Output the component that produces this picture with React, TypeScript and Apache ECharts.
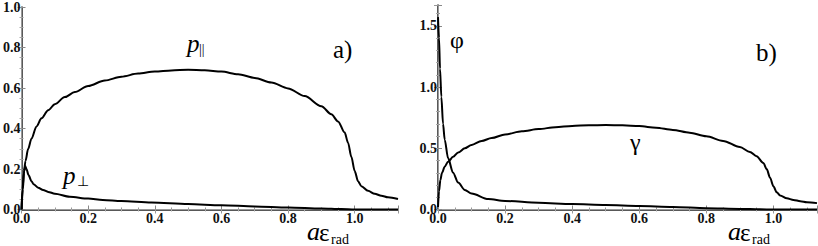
import React, { useEffect, useRef } from "react";
import * as echarts from "echarts";

// ---- data ----
const X_PPAR = [0, 0.003, 0.007, 0.012, 0.02, 0.03, 0.045, 0.06, 0.08, 0.1, 0.13, 0.16, 0.2, 0.25, 0.3, 0.35, 0.4, 0.45, 0.5, 0.55, 0.6, 0.65, 0.7, 0.75, 0.8, 0.85, 0.9, 0.93, 0.95, 0.97, 0.98, 0.99, 1.0, 1.01, 1.02, 1.04, 1.06, 1.08, 1.1, 1.13];
const Y_PPAR = [0, 0.1, 0.18, 0.24, 0.3, 0.35, 0.41, 0.45, 0.49, 0.52, 0.555, 0.58, 0.61, 0.637, 0.656, 0.671, 0.681, 0.687, 0.69, 0.688, 0.681, 0.668, 0.65, 0.627, 0.598, 0.56, 0.51, 0.47, 0.435, 0.38, 0.33, 0.26, 0.19, 0.14, 0.115, 0.092, 0.078, 0.068, 0.06, 0.052];

const X_PPERP = [0, 0.004, 0.008, 0.011, 0.015, 0.021, 0.03, 0.036, 0.05, 0.065, 0.08, 0.1, 0.145, 0.2, 0.244, 0.3, 0.39, 0.5, 0.6, 0.7, 0.8, 0.9, 0.96, 1.0, 1.13];
const Y_PPERP = [0, 0.1, 0.19, 0.215, 0.2, 0.17, 0.14, 0.125, 0.108, 0.096, 0.087, 0.078, 0.063, 0.054, 0.047, 0.042, 0.034, 0.027, 0.021, 0.015, 0.01, 0.005, 0.002, 0, 0];

const X_PHI = [0, 0.003, 0.006, 0.01, 0.015, 0.02, 0.03, 0.045, 0.06, 0.08, 0.1, 0.15, 0.2, 0.3, 0.4, 0.5, 0.6, 0.7, 0.8, 0.9, 0.96, 1.0, 1.13];
const Y_PHI = [1.571, 1.4, 1.15, 0.92, 0.7, 0.57, 0.42, 0.3, 0.22, 0.16, 0.13, 0.085, 0.07, 0.055, 0.045, 0.037, 0.029, 0.021, 0.011, 0.005, 0.002, 0, 0];

const X_GAMMA = [0, 0.003, 0.007, 0.012, 0.02, 0.03, 0.045, 0.06, 0.08, 0.1, 0.13, 0.16, 0.2, 0.25, 0.3, 0.35, 0.4, 0.45, 0.5, 0.55, 0.6, 0.65, 0.7, 0.75, 0.8, 0.85, 0.9, 0.93, 0.95, 0.97, 0.98, 0.99, 1.0, 1.01, 1.02, 1.04, 1.06, 1.08, 1.1, 1.13];
const Y_GAMMA = [0.02, 0.15, 0.24, 0.3, 0.35, 0.39, 0.43, 0.465, 0.5, 0.527, 0.56, 0.584, 0.613, 0.639, 0.657, 0.672, 0.682, 0.688, 0.69, 0.688, 0.681, 0.668, 0.65, 0.627, 0.598, 0.56, 0.51, 0.47, 0.435, 0.38, 0.33, 0.26, 0.19, 0.14, 0.115, 0.092, 0.078, 0.068, 0.06, 0.052];

const X_MAX = 1.13;
const X_TICK = 0.2;
const YA_MAX = 1.0;
const YA_TICK = 0.2;
const YB_MAX = 1.67;
const YB_TICK = 0.5;

const zip = (xs: number[], ys: number[]) => xs.map((x, i) => [x, ys[i]]);

const SERIF = "Liberation Serif";

function fmt(step: number) {
  return (v: number) => {
    const k = v / step;
    if (Math.abs(k - Math.round(k)) > 1e-6) return "";
    return v.toFixed(1);
  };
}

export default function App() {
  const ref = useRef<HTMLDivElement>(null);
  useEffect(() => {
    document.body.style.margin = "0";
    const chart = echarts.init(ref.current!, undefined, { renderer: "svg" });
    const grids = [
      { left: 18, top: 5, width: 380, height: 204.5 },
      { left: 438, top: 5, width: 379, height: 204.5 },
    ];
    const labelStyle = { fontFamily: SERIF, fontSize: 14, fontWeight: "bold" as const, color: "#111" };
    const xAxes: any[] = [];
    const yAxes: any[] = [];
    [0, 1].forEach((g) => {
      xAxes.push({
        type: "value", gridIndex: g, min: 0, max: X_MAX, interval: X_TICK, position: "bottom",
        axisLine: { show: true, lineStyle: { color: "#222", width: 1.5 } },
        axisTick: { show: true, inside: true, length: 4, lineStyle: { color: "#888" } },
        minorTick: { show: true, splitNumber: 4, length: 2, lineStyle: { color: "#999" } },
        axisLabel: { ...labelStyle, margin: 2, formatter: fmt(X_TICK), showMaxLabel: false },
        splitLine: { show: false },
      });
      xAxes.push({
        type: "value", gridIndex: g, min: 0, max: X_MAX, interval: X_TICK, position: "top",
        axisLine: { show: true, lineStyle: { color: "#999", width: 1 } },
        axisTick: { show: true, inside: true, length: 4, lineStyle: { color: "#999" } },
        minorTick: { show: true, splitNumber: 4, length: 2, lineStyle: { color: "#aaa" } },
        axisLabel: { show: false },
        splitLine: { show: false },
      });
      const ymax = g === 0 ? YA_MAX : YB_MAX;
      const yt = g === 0 ? YA_TICK : YB_TICK;
      yAxes.push({
        type: "value", gridIndex: g, min: 0, max: ymax, interval: yt, position: "left",
        axisLine: { show: true, lineStyle: { color: "#222", width: 1.5 } },
        axisTick: { show: true, inside: true, length: 4, lineStyle: { color: "#888" } },
        minorTick: { show: true, splitNumber: g === 0 ? 4 : 5, length: 2, lineStyle: { color: "#999" } },
        axisLabel: { ...labelStyle, margin: 1, formatter: fmt(yt), showMaxLabel: g === 0 },
        splitLine: { show: false },
      });
      yAxes.push({
        type: "value", gridIndex: g, min: 0, max: ymax, interval: yt, position: "right",
        axisLine: { show: true, lineStyle: { color: "#999", width: 1 } },
        axisTick: { show: true, inside: true, length: 4, lineStyle: { color: "#999" } },
        minorTick: { show: true, splitNumber: g === 0 ? 4 : 5, length: 2, lineStyle: { color: "#aaa" } },
        axisLabel: { show: false },
        splitLine: { show: false },
      });
    });
    const line = (data: number[][], g: number) => ({
      type: "line", xAxisIndex: g * 2, yAxisIndex: g * 2, data, showSymbol: false,
      smooth: 0.3, smoothMonotone: "x",
      lineStyle: { color: "#000", width: 2 }, itemStyle: { color: "#000" }, clip: true,
    });
    const txt = (text: string, x: number, y: number, size: number, italic = false) => ({
      type: "text", x, y, silent: true,
      style: {
        text, fill: "#000", fontFamily: SERIF, fontSize: size,
        fontStyle: italic ? "italic" : "normal", verticalAlign: "middle",
      },
    });
    chart.setOption({
      animation: false,
      grid: grids,
      xAxis: xAxes,
      yAxis: yAxes,
      series: [
        line(zip(X_PPAR, Y_PPAR), 0),
        line(zip(X_PPERP, Y_PPERP), 0),
        line(zip(X_PHI, Y_PHI), 1),
        line(zip(X_GAMMA, Y_GAMMA), 1),
      ],
      graphic: [
        txt("p", 187, 43, 25, true),
        txt("||", 199, 49, 14),
        txt("a)", 333, 49, 25),
        txt("p", 63, 175, 25, true),
        txt("⊥", 77, 181, 14),
        txt("a", 307, 231, 26, true),
        txt("ε", 319, 232, 25),
        txt("rad", 331, 239.5, 14),
        txt("φ", 450, 40, 24),
        txt("γ", 630, 142, 24),
        txt("b)", 756, 52, 25),
        txt("a", 728, 231, 26, true),
        txt("ε", 740, 232, 25),
        txt("rad", 752, 239.5, 14),
      ],
    });
    return () => chart.dispose();
  }, []);
  return <div ref={ref} style={{ width: 818, height: 246 }} />;
}
